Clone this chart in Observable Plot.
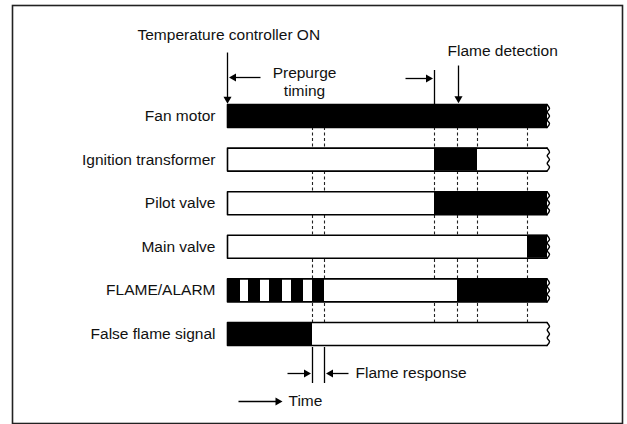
<!DOCTYPE html>
<html>
<head>
<meta charset="utf-8">
<script src="https://cdn.jsdelivr.net/npm/d3@7"></script>
<script src="https://cdn.jsdelivr.net/npm/@observablehq/plot@0.6"></script>
<style>
  body { margin: 0; background: #fff; }
  svg { font-family: "Liberation Sans", Arial, Helvetica, sans-serif; }
</style>
</head>
<body>
<div id="chart"></div>
<script>
// Rows of the timing diagram (top to bottom)
const rows = ["Fan motor", "Ignition transformer", "Pilot valve", "Main valve", "FLAME/ALARM", "False flame signal"];
// Time marks (arbitrary time units) shown as dashed lines
const events = [8.5, 9.7, 20.7, 23.0, 25.0, 30.0];
const tEnd = 32;
// ON (black) intervals per row
const onFan = [[0, 32]];
const onIgnition = [[20.7, 25.0]];
const onPilot = [[20.7, 32]];
const onMain = [[30.0, 32]];
const onFlameAlarm = [[0, 1.3], [2.1, 3.3], [4.2, 5.5], [6.4, 7.6], [8.5, 9.7], [23.0, 32]];
const onFalseFlame = [[0, 8.5]];
const onIntervals = [onFan, onIgnition, onPilot, onMain, onFlameAlarm, onFalseFlame];
// Text annotations
const notes = [
  {text: "Temperature controller ON", x: -9.0, y: -1.85, anchor: "start"},
  {text: "Prepurge\ntiming", x: 7.7, y: -0.79, anchor: "middle"},
  {text: "Flame detection", x: 22.0, y: -1.50, anchor: "start"},
  {text: "Flame response", x: 12.8, y: 5.906, anchor: "start"},
  {text: "Time", x: 6.1, y: 6.548, anchor: "start"}
];
// Arrows (x2,y2 = tip)
const arrows = [
  {x1: 0, y1: -1.456, x2: 0, y2: -0.28},
  {x1: 3.3, y1: -0.883, x2: 0.15, y2: -0.883},
  {x1: 17.8, y1: -0.86, x2: 20.55, y2: -0.86},
  {x1: 23.1, y1: -1.158, x2: 23.1, y2: -0.29},
  {x1: 6.0, y1: 5.906, x2: 8.35, y2: 5.906},
  {x1: 12.1, y1: 5.906, x2: 9.85, y2: 5.906},
  {x1: 1.1, y1: 6.548, x2: 5.5, y2: 6.548}
];
// Plain marker lines
const markers = [
  {x: 20.7, y1: -1.044, y2: -0.264},
  {x: 8.5, y1: 5.31, y2: 6.135},
  {x: 9.7, y1: 5.31, y2: 6.135}
];

const H = 0.264; // bar half-height in row units
const PX_T = 10, PX_V = 43.6; // pixels per unit
const headLen = 4.67;

const bars = rows.map((r, i) => ({row: r, i}));
const onRects = onIntervals.flatMap((segs, i) => segs.map(([a, b]) => ({i, a, b})));
const outline = rows.flatMap((r, i) => [
  {i, x: tEnd - 0.05, y: i - H}, {i, x: 0, y: i - H}, {i, x: 0, y: i + H}, {i, x: tEnd - 0.05, y: i + H}
]);
const wave = [[H, 0], [0.17, 0.25], [0.09, 0.02], [0, 0.25], [-0.09, 0.02], [-0.17, 0.25], [-H, 0]];
const squiggles = rows.flatMap((r, i) => wave.map(([dv, dt]) => ({i, x: tEnd - 0.05 + dt, y: i + dv})));

const heads = arrows.map(a => {
  const dx = a.x2 - a.x1, dy = a.y2 - a.y1;
  if (Math.abs(dx) > Math.abs(dy)) {
    const s = Math.sign(dx);
    return {x: a.x2 - s * headLen / PX_T, y: a.y2, rot: s > 0 ? 90 : -90, x1: a.x1, y1: a.y1};
  } else {
    const s = Math.sign(dy);
    return {x: a.x2, y: a.y2 - s * headLen / PX_V, rot: s > 0 ? 180 : 0, x1: a.x1, y1: a.y1};
  }
});

const chart = Plot.plot({
  width: 627,
  height: 424,
  marginLeft: 12,
  marginTop: 5,
  marginRight: 5,
  marginBottom: 1,
  x: {domain: [0, tEnd], range: [227, 547], axis: null},
  y: {domain: [0, 5], range: [115.5, 333.5], axis: null},
  style: {fontSize: "15.5px", color: "#111", background: "#fff"},
  marks: [
    Plot.frame({stroke: "#222", strokeWidth: 1.6}),
    Plot.ruleX(events, {x: d => d, y1: H, y2: 5 - H, stroke: "#222", strokeWidth: 1.1, strokeDasharray: "3,2.5"}),
    Plot.rect(bars, {x1: 0, x2: tEnd - 0.05, y1: d => d.i - H, y2: d => d.i + H, fill: "#fff"}),
    Plot.rect(onRects, {x1: "a", x2: "b", y1: d => d.i - H, y2: d => d.i + H, fill: "#000"}),
    Plot.line(outline, {x: "x", y: "y", z: "i", stroke: "#000", strokeWidth: 1.6}),
    Plot.line(squiggles, {x: "x", y: "y", z: "i", stroke: "#000", strokeWidth: 1.4, curve: "catmull-rom"}),
    Plot.ruleX(markers, {x: "x", y1: "y1", y2: "y2", stroke: "#000", strokeWidth: 1.3}),
    Plot.link(heads, {x1: "x1", y1: "y1", x2: "x", y2: "y", stroke: "#000", strokeWidth: 1.3}),
    Plot.dot(heads, {x: "x", y: "y", symbol: "triangle", r: 3, fill: "#000", stroke: "none", rotate: "rot"}),
    Plot.text(rows, {x: -1.2, y: (d, i) => i, text: d => d, textAnchor: "end", fill: "#111"}),
    Plot.text(notes.filter(d => d.anchor === "start"), {x: "x", y: "y", text: "text", textAnchor: "start", fill: "#111"}),
    Plot.text(notes.filter(d => d.anchor === "middle"), {x: "x", y: "y", text: "text", textAnchor: "middle", lineHeight: 1.15, fill: "#111"})
  ]
});
document.getElementById("chart").appendChild(chart);
</script>
</body>
</html>
